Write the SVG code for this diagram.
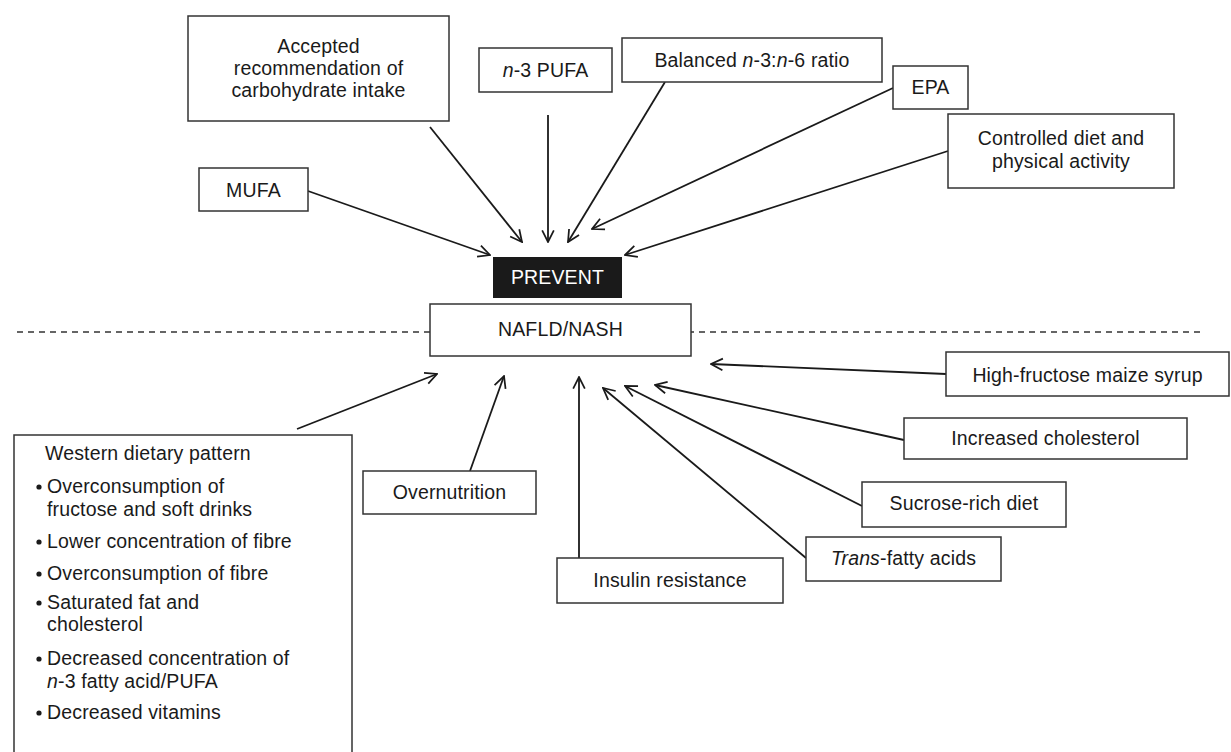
<svg xmlns="http://www.w3.org/2000/svg" width="1231" height="752" viewBox="0 0 1231 752">
<style>
.box{fill:#fff;stroke:#333;stroke-width:1.5}
.t{font-family:"Liberation Sans",Arial,sans-serif;font-size:19.5px;fill:#1a1a1a;letter-spacing:0.15px}
.c{text-anchor:middle}
.con{stroke:#1a1a1a;stroke-width:1.8;fill:none;marker-end:url(#ah)}
</style>
<defs>
<marker id="ah" viewBox="0 0 12 12" refX="11" refY="6" markerWidth="14" markerHeight="14" markerUnits="userSpaceOnUse" orient="auto">
<path d="M1,1 L11,6 L1,11" fill="none" stroke="#1a1a1a" stroke-width="1.5"/>
</marker>
</defs>
<rect width="1231" height="752" fill="#fff"/>
<line x1="17" y1="332" x2="1203" y2="332" stroke="#333" stroke-width="1.3" stroke-dasharray="6,5"/>
<g id="connectors">
<line class="con" x1="308" y1="191" x2="490" y2="255"/>
<line class="con" x1="430" y1="127" x2="522" y2="242"/>
<line class="con" x1="548" y1="115" x2="548" y2="242"/>
<line class="con" x1="665" y1="82" x2="568" y2="242"/>
<line class="con" x1="893" y1="88" x2="592" y2="229"/>
<line class="con" x1="948" y1="151" x2="625" y2="255"/>
<line class="con" x1="297" y1="429" x2="437" y2="374"/>
<line class="con" x1="470" y1="471" x2="504" y2="376"/>
<line class="con" x1="579" y1="558" x2="579" y2="377"/>
<line class="con" x1="806" y1="558" x2="603" y2="388"/>
<line class="con" x1="862" y1="506" x2="625" y2="386"/>
<line class="con" x1="904" y1="440" x2="655" y2="385"/>
<line class="con" x1="946" y1="374" x2="711" y2="364"/>
</g>
<g id="accepted">
<rect class="box" x="188" y="16" width="261" height="105"/>
<text class="t c" x="318.5" y="53">Accepted</text>
<text class="t c" x="318.5" y="75">recommendation of</text>
<text class="t c" x="318.5" y="97">carbohydrate intake</text>
</g>
<g id="n3pufa">
<rect class="box" x="479" y="48" width="133" height="44"/>
<text class="t c" x="545.5" y="77"><tspan font-style="italic">n</tspan>-3 PUFA</text>
</g>
<g id="balanced">
<rect class="box" x="622" y="38" width="260" height="44"/>
<text class="t c" x="752" y="67">Balanced <tspan font-style="italic">n</tspan>-3:<tspan font-style="italic">n</tspan>-6 ratio</text>
</g>
<g id="epa">
<rect class="box" x="893" y="66" width="75" height="43"/>
<text class="t c" x="930.5" y="94">EPA</text>
</g>
<g id="controlled">
<rect class="box" x="948" y="114" width="226" height="74"/>
<text class="t c" x="1061" y="145">Controlled diet and</text>
<text class="t c" x="1061" y="168">physical activity</text>
</g>
<g id="mufa">
<rect class="box" x="199" y="168" width="109" height="43"/>
<text class="t c" x="253.5" y="197">MUFA</text>
</g>
<g id="prevent">
<rect x="493" y="257" width="129" height="41" fill="#1a1a1a"/>
<text class="t c" x="557.5" y="284" style="fill:#fff">PREVENT</text>
</g>
<g id="nafld">
<rect class="box" x="430" y="304" width="261" height="52"/>
<text class="t c" x="560.5" y="336">NAFLD/NASH</text>
</g>
<g id="hfcs">
<rect class="box" x="946" y="352" width="283" height="44"/>
<text class="t c" x="1087.5" y="382">High-fructose maize syrup</text>
</g>
<g id="cholesterol">
<rect class="box" x="904" y="418" width="283" height="41"/>
<text class="t c" x="1045.5" y="445">Increased cholesterol</text>
</g>
<g id="sucrose">
<rect class="box" x="862" y="482" width="204" height="45"/>
<text class="t c" x="964" y="510">Sucrose-rich diet</text>
</g>
<g id="trans">
<rect class="box" x="806" y="537" width="195" height="44"/>
<text class="t c" x="903.5" y="565"><tspan font-style="italic">Trans</tspan>-fatty acids</text>
</g>
<g id="insulin">
<rect class="box" x="557" y="558" width="226" height="45"/>
<text class="t c" x="670" y="587">Insulin resistance</text>
</g>
<g id="overnutrition">
<rect class="box" x="363" y="471" width="173" height="43"/>
<text class="t c" x="449.5" y="499">Overnutrition</text>
</g>
<g id="western">
<rect class="box" x="14" y="435" width="338" height="330"/>
<text class="t" x="45" y="460">Western dietary pattern</text>
<circle cx="39" cy="487" r="2.6" fill="#1a1a1a"/>
<text class="t" x="47" y="493">Overconsumption of</text>
<text class="t" x="47" y="516">fructose and soft drinks</text>
<circle cx="39" cy="542" r="2.6" fill="#1a1a1a"/>
<text class="t" x="47" y="548">Lower concentration of fibre</text>
<circle cx="39" cy="574" r="2.6" fill="#1a1a1a"/>
<text class="t" x="47" y="580">Overconsumption of fibre</text>
<circle cx="39" cy="603" r="2.6" fill="#1a1a1a"/>
<text class="t" x="47" y="609">Saturated fat and</text>
<text class="t" x="47" y="631">cholesterol</text>
<circle cx="39" cy="659" r="2.6" fill="#1a1a1a"/>
<text class="t" x="47" y="665">Decreased concentration of</text>
<text class="t" x="47" y="688"><tspan font-style="italic">n</tspan>-3 fatty acid/PUFA</text>
<circle cx="39" cy="713" r="2.6" fill="#1a1a1a"/>
<text class="t" x="47" y="719">Decreased vitamins</text>
</g>
</svg>
